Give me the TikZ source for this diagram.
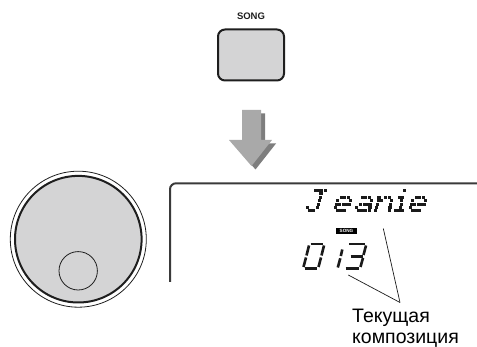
\documentclass[tikz,border=0pt]{standalone}
\usepackage{fontspec}
\setmainfont{Liberation Sans}
\usetikzlibrary{positioning}
\definecolor{keyGray}{HTML}{D4D4D5}
\definecolor{keyEdge}{HTML}{1E1E1E}
\definecolor{arrowGray}{HTML}{A9A9A9}
\definecolor{arrowShade}{HTML}{7E7E7E}
\definecolor{lcdInk}{HTML}{1A1A1A}
\definecolor{frameGray}{HTML}{3A3A3A}

% one dot-matrix character: x offset, first row, list of columns per row
\newcommand{\lcdglyph}[3]{%
  \foreach \cols [count=\rr from #2] in {#3}
    \foreach \cc in \cols
      \fill[lcddot] ({#1+\cc*3.4+(6-\rr)*0.85}, {189+\rr*3.4}) rectangle ++(3.1,3.0);%
}

\begin{document}
\begin{tikzpicture}[x=1pt, y=-1pt,
  songkey/.style={draw=keyEdge, line width=2pt, fill=keyGray, rounded corners=7pt,
    minimum width=66pt, minimum height=51pt},
  keylabel/.style={font=\fontsize{9.5}{9.5}\selectfont\bfseries, inner sep=0pt, text=keyEdge},
  lcddot/.style={lcdInk},
  lcdseg/.style={lcdInk, line width=2.6pt},
  songbadge/.style={fill=black, text=white, inner sep=0pt, minimum width=21pt,
    minimum height=6.5pt, font=\fontsize{4.6}{4.6}\selectfont\bfseries},
  pointer/.style={lcdInk, line width=0.7pt},
  curlabel/.style={font=\fontsize{19.5}{21.6}\selectfont, align=left, inner sep=0pt}]
\useasboundingbox (0,0) rectangle (477,347);

% SONG button
\node[songkey] (songkey) at (251,55) {};
\node[keylabel, above=9pt of songkey] (songtext) {SONG};

% Down arrow with shadow
\foreach \dx/\dy/\col in {4/3.5/arrowShade, 0/0/arrowGray} {
  \fill[\col, shift={(\dx,\dy)}] (242,110) -- (261,110) -- (261,140) -- (272,140)
    -- (251.5,166) -- (229,140) -- (242,140) -- cycle;
}

% Dial
\draw[line width=0.8pt, keyEdge] (78.3,239.2) circle (68);
\draw[line width=2pt, keyEdge, fill=keyGray] (78.3,239.2) circle (63.3);
\draw[line width=0.8pt, keyEdge] (78.2,270.8) circle (19.2);

% Display frame
\draw[frameGray, line width=2pt, rounded corners=6pt] (170,282) -- (170,183.3) -- (478,183.3);

% Song name in dot matrix
\lcdglyph{305}{0}{{1,2,3,4},{3},{3},{3},{3},{0,3},{1,2}}
\lcdglyph{333}{2}{{1,2,3},{0,4},{0,1,2,3,4},{0},{1,2,3}}
\lcdglyph{354}{2}{{1,2,3},{4},{1,2,3,4},{0,4},{1,2,3,4}}
\lcdglyph{374}{2}{{0,2,3},{0,1,4},{0,4},{0,4},{0,4}}
\lcdglyph{391}{0}{{2}}
\lcdglyph{391}{2}{{1,2},{2},{2},{2},{1,2,3}}
\lcdglyph{408}{2}{{1,2,3},{0,4},{0,1,2,3,4},{0},{1,2,3}}

% Badge
\node[songbadge] (badge) at (346.5,231) {SONG};

% Song number 013 in seven segments
\foreach \xa/\ya/\xb/\yb in {310.5/244/322.5/244, 309/245.5/306.5/255.5, 306/257.5/303.5/267,
    304.5/268.3/316.5/268.3, 318.5/267/321/257.5, 321.5/255.5/324/245.5,
    342.3/249.5/340.8/256, 340.3/258.3/337.8/267.5,
    349/244/365/244, 366/245.5/363.5/255, 350.5/256.3/362.5/256.3,
    363/257.8/360.5/267, 345.5/268.3/358.5/268.3} {
  \draw[lcdseg] (\xa,\ya) -- (\xb,\yb);
}

% Label and pointers
\node[curlabel, anchor=north west] (cur) at (352,308.5) {Текущая\\композиция};
\coordinate (numTip) at (348.3,275);
\coordinate (nameTip) at (383.3,228.5);
\coordinate (ptr) at (400,302.5);
\draw[pointer] (numTip) -- (ptr);
\draw[pointer] (nameTip) -- (ptr);
\end{tikzpicture}
\end{document}
